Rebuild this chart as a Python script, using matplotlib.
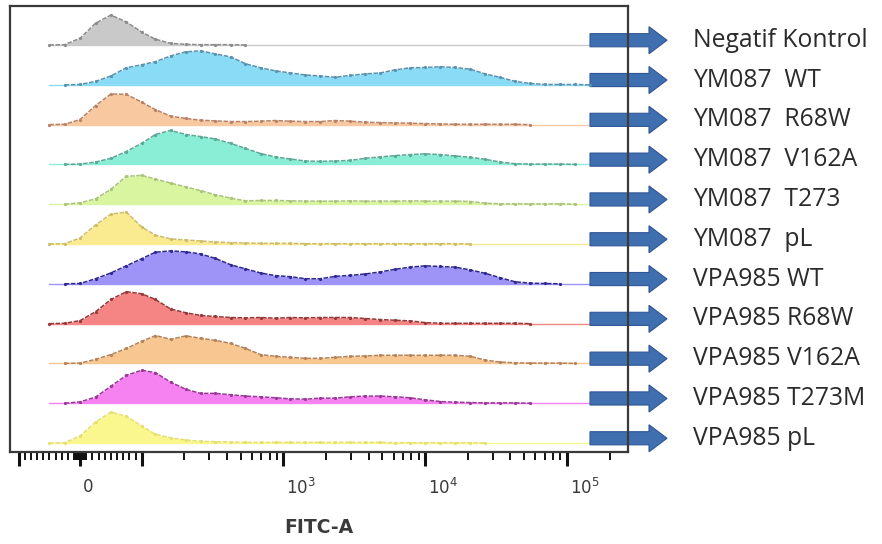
import numpy as np
import matplotlib

matplotlib.use("Agg")
import matplotlib.pyplot as plt
from matplotlib.patches import FancyArrow
from matplotlib.transforms import ScaledTranslation, blended_transform_factory

# FITC-A channel centres shared by all histograms
fitc = [-95, -70, -50, -25, 0, 25, 50, 75, 100, 125, 160, 205, 260, 330, 425, 540,
        690, 880, 1120, 1430, 1820, 2330, 2970, 3780, 4830, 6150, 7850, 10000, 12800,
        16300, 20800, 26500, 33800, 43100, 55000, 70100, 89400, 114000, 145000, 186000,
        237000]

samples = ["Negatif Kontrol", "YM087  WT", "YM087  R68W", "YM087  V162A", "YM087  T273",
           "YM087  pL", "VPA985 WT", "VPA985 R68W", "VPA985 V162A", "VPA985 T273M",
           "VPA985 pL"]

# counts, % of mode
neg_ctrl = [0, 0, 0, 1, 20, 64, 88, 68, 38, 17, 5, 2, 1, 1, 1, 0, 0, 0, 0, 0, 0, 0, 0, 0,
            0, 0, 0, 0, 0, 0, 0, 0, 0, 0, 0, 0, 0, 0, 0, 0, 0]
ym_wt = [0, 0, 0, 0, 1, 10, 26, 50, 59, 68, 85, 97, 100, 91, 82, 62, 50, 41, 35, 29, 26,
         22, 28, 32, 35, 44, 50, 51, 53, 51, 46, 32, 22, 10, 4, 1, 1, 1, 0, 0, 0]
ym_r68w = [0, 0, 0, 1, 15, 56, 90, 89, 66, 44, 25, 18, 13, 11, 9, 9, 10, 12, 10, 9, 9,
           12, 10, 7, 6, 5, 4, 3, 2, 1, 1, 1, 1, 1, 0, 0, 0, 0, 0, 0, 0]
ym_v162a = [0, 0, 0, 0, 1, 7, 18, 38, 62, 88, 100, 88, 82, 75, 62, 47, 32, 22, 16, 10, 9,
            10, 12, 18, 22, 26, 29, 31, 29, 25, 21, 15, 7, 2, 1, 1, 1, 0, 0, 0, 0]
ym_t273 = [0, 0, 0, 0, 4, 16, 44, 82, 85, 74, 62, 51, 40, 28, 18, 10, 11, 11, 10, 9, 9,
           9, 10, 9, 9, 9, 10, 9, 9, 9, 8, 3, 1, 1, 1, 1, 1, 0, 0, 0, 0]
ym_pl = [0, 0, 0, 1, 18, 56, 88, 94, 50, 26, 15, 12, 9, 6, 4, 3, 2, 2, 2, 1, 1, 1, 1, 1,
         1, 1, 1, 1, 1, 1, 0, 0, 0, 0, 0, 0, 0, 0, 0, 0, 0]
vpa_wt = [0, 0, 0, 0, 1, 15, 32, 53, 74, 93, 97, 94, 88, 75, 56, 44, 32, 24, 21, 15, 15,
          22, 25, 29, 35, 43, 49, 53, 51, 49, 41, 31, 18, 6, 2, 1, 0, 0, 0, 0, 0]
vpa_r68w = [0, 0, 0, 1, 9, 35, 71, 94, 88, 71, 43, 32, 24, 21, 18, 17, 18, 16, 18, 17, 18,
            18, 18, 15, 12, 10, 8, 3, 1, 1, 1, 1, 1, 1, 0, 0, 0, 0, 0, 0, 0]
vpa_v162a = [0, 0, 0, 0, 1, 12, 26, 44, 65, 82, 71, 81, 74, 68, 59, 44, 26, 21, 18, 15,
             15, 18, 21, 22, 24, 24, 24, 24, 24, 24, 21, 10, 4, 2, 1, 1, 1, 0, 0, 0, 0]
vpa_t273m = [0, 0, 0, 0, 4, 18, 50, 82, 97, 90, 62, 41, 29, 29, 25, 21, 19, 16, 13, 12,
             15, 15, 19, 21, 21, 19, 16, 10, 5, 3, 2, 1, 1, 1, 0, 0, 0, 0, 0, 0, 0]
vpa_pl = [0, 0, 0, 1, 21, 62, 91, 79, 50, 26, 15, 9, 5, 4, 3, 2, 2, 2, 2, 2, 2, 2, 2, 2,
          2, 1, 1, 1, 1, 1, 1, 0, 0, 0, 0, 0, 0, 0, 0, 0, 0]

series = [neg_ctrl, ym_wt, ym_r68w, ym_v162a, ym_t273, ym_pl,
          vpa_wt, vpa_r68w, vpa_v162a, vpa_t273m, vpa_pl]

fills = ["#C9C9C9", "#8ADCF6", "#F8C8A0", "#8AEDD5", "#D9F5A0", "#FAEA90",
         "#9E94F7", "#F58585", "#F8C690", "#F682F2", "#FAF78E"]
edges = ["#8C8C8C", "#5A93AF", "#B88266", "#5AA896", "#A9C47A", "#CDBD6A",
         "#2E2890", "#953838", "#B5835A", "#9A3898", "#E6E070"]

# biexponential-ish axis: linear inside +-L, log outside
L, K = 100.0, 1 / np.log(10)


def _fwd(x):
    x = np.asarray(x, dtype=float)
    a = np.abs(x)
    lg = K + np.log10(np.maximum(a, 1e-9) / L)
    return np.sign(x) * np.where(a <= L, a / L * K, lg)


def _inv(u):
    u = np.asarray(u, dtype=float)
    a = np.abs(u)
    return np.sign(u) * np.where(a <= K, a / K * L, L * 10 ** (np.minimum(a, 30) - K))


W, H = 882, 544
fig = plt.figure(figsize=(W / 100, H / 100), dpi=100)
ax = fig.add_axes([10 / W, 92 / H, 618 / W, 446 / H])
ax.set_xscale("function", functions=(_fwd, _inv))
ax.set_xlim(-115, 2.7e5)

n = len(samples)
scale = 0.854 / 100
x = np.array(fitc[2:])
for i, (h, fc, ec) in enumerate(zip(series, fills, edges)):
    off = n - 1 - i
    y = off + np.array(h[2:]) * scale
    ax.plot([x[0], x[-3]], [off, off], color=fc, lw=1.0, zorder=1)
    ax.fill_between(x, off, y, color=fc, lw=0, zorder=2)
    nz = np.nonzero(h[2:])[0]
    lo, hi = max(nz[0] - 1, 0), nz[-1] + 2
    ax.plot(x[lo:hi], y[lo:hi], color=ec, lw=1.1, ls=(0, (3, 1)),
            marker="o", ms=1.3, zorder=3)

ax.set_ylim(-0.225, 10.98)
ax.set_yticks([])

major = [-100, 0, 100, 1e3, 1e4, 1e5]
ax.set_xticks(major, ["", "0", "", "$10^3$", "$10^4$", "$10^5$"])
minor = [s * v for s in (-1, 1) for v in list(range(1, 10)) + list(range(10, 100, 10))]
minor += [m * d for d in (100, 1000, 10000) for m in range(2, 10)] + [2e5]
ax.set_xticks(minor, minor=True)
ax.tick_params(axis="x", which="major", length=10, width=2.2, color="#111",
               labelsize=12, labelcolor="#3a3a3a", pad=9)
ax.tick_params(axis="x", which="minor", length=5.5, width=1.4, color="#111")
shift = ScaledTranslation(3 / 100, 0, fig.dpi_scale_trans)
for lab in ax.get_xticklabels():
    lab.set_horizontalalignment("left")
    lab.set_transform(lab.get_transform() + shift)
ax.set_xlabel("FITC-A", fontsize=13.5, fontweight="bold", color="#3a3a3a", labelpad=14)

for sp in ax.spines.values():
    sp.set_linewidth(1.6)
    sp.set_color("#3a3a3a")

# block arrows + sample names on the right
tr = blended_transform_factory(fig.transFigure, ax.transData)
x0, x1 = 590 / W, 667 / W
for i, name in enumerate(samples):
    yc = n - 1 - i + 0.12
    ax.add_patch(FancyArrow(x0, yc, x1 - x0, 0, width=0.33, head_width=0.68,
                            head_length=18 / W, length_includes_head=True,
                            fc="#3F6FAE", ec="#2F5597", lw=0.8,
                            transform=tr, clip_on=False, zorder=1))
    ax.text(693 / W, yc, name, transform=tr, fontsize=17.8, color="#2b2b2b",
            family="Open Sans", va="center", ha="left")

fig.savefig("out.png", dpi=100)
